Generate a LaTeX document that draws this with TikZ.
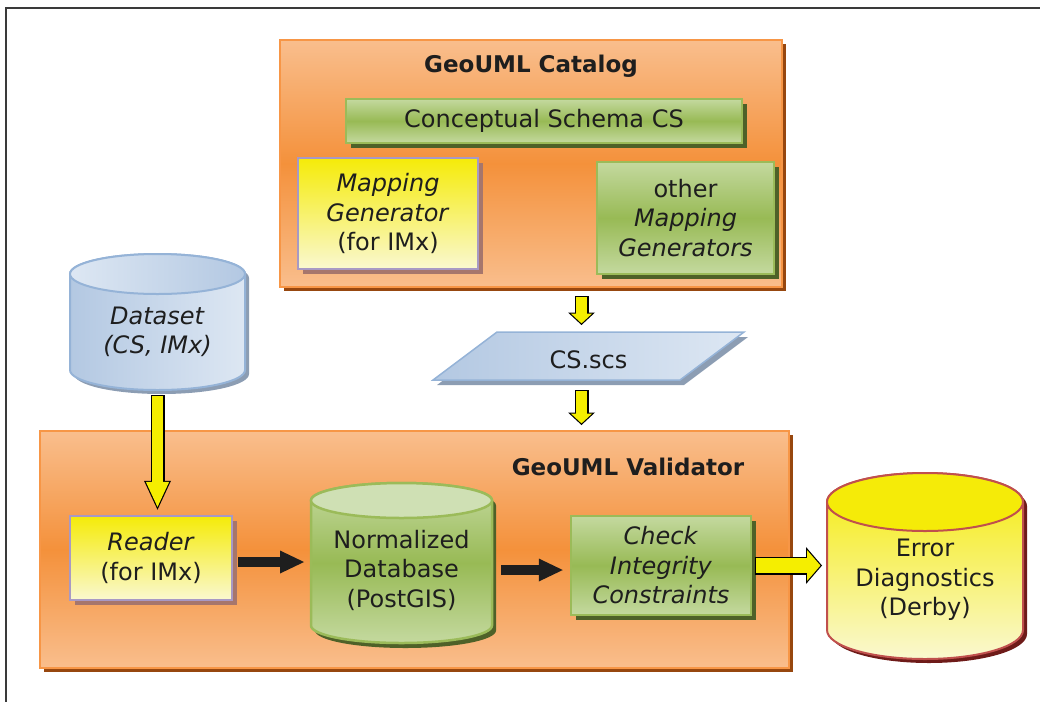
\documentclass[tikz,border=0pt]{standalone}
\usepackage{fontspec}
\setmainfont{DejaVu Sans}
\usetikzlibrary{arrows.meta,shadows,calc}

\definecolor{orlight}{HTML}{F9BE8D}
\definecolor{ormid}{HTML}{F4913B}
\definecolor{orline}{HTML}{F79646}
\definecolor{orshadow}{HTML}{97470F}
\definecolor{grlight}{HTML}{C4D99F}
\definecolor{grmid}{HTML}{98BA55}
\definecolor{grline}{HTML}{9BBB59}
\definecolor{grtop}{HTML}{CFE0B4}
\definecolor{grshadow}{HTML}{4E6128}
\definecolor{yelbright}{HTML}{F5EB08}
\definecolor{yelpale}{HTML}{FAF8D0}
\definecolor{lavline}{HTML}{A899C4}
\definecolor{mauveshadow}{HTML}{A6766C}
\definecolor{bllight}{HTML}{DDE7F3}
\definecolor{blmid}{HTML}{B3C8E2}
\definecolor{blline}{HTML}{95B3D7}
\definecolor{blshadow}{HTML}{8C9DB3}
\definecolor{redline}{HTML}{C0504D}
\definecolor{redshadow}{HTML}{6E1B19}
\definecolor{arrowyel}{HTML}{F5EE00}
\definecolor{inktext}{HTML}{1E1E1E}
\definecolor{frameline}{HTML}{3A3A3A}

\tikzset{
  boxtext/.style={font=\fontsize{24}{29.5}\selectfont, text=inktext, align=center, inner sep=4pt},
  titletext/.style={font=\fontsize{23}{28}\selectfont\bfseries, text=inktext},
  framel/.style={draw=frameline, line width=1.5pt},
  shapebox/.style={inner sep=0pt, outer sep=0pt},
  orbox/.style={draw=orline, line width=2pt, top color=orlight, bottom color=orlight, middle color=ormid,
    drop shadow={shadow xshift=4pt, shadow yshift=-4pt, opacity=1, fill=orshadow}},
  grbox/.style={draw=grline, line width=2.5pt, top color=grlight, bottom color=grlight, middle color=grmid,
    drop shadow={shadow xshift=5pt, shadow yshift=-5pt, opacity=1, fill=grshadow}},
  ylbox/.style={draw=lavline, line width=2.5pt, top color=yelbright, bottom color=yelpale,
    drop shadow={shadow xshift=5pt, shadow yshift=-5pt, opacity=1, fill=mauveshadow}},
  scsfill/.style={draw=blline, line width=1.5pt, left color=blmid, right color=bllight,
    drop shadow={shadow xshift=4pt, shadow yshift=-5pt, opacity=1, fill=blshadow}},
  dsbody/.style={draw=blline, line width=2pt, left color=blmid, right color=bllight,
    drop shadow={shadow xshift=4pt, shadow yshift=-4pt, opacity=1, fill=blshadow}},
  dstop/.style={draw=blline, line width=2pt, left color=bllight, right color=blmid},
  dbbody/.style={draw=grline, line width=2.5pt, top color=grlight, bottom color=grlight, middle color=grmid,
    drop shadow={shadow xshift=4pt, shadow yshift=-5pt, opacity=1, fill=grshadow}},
  dbtop/.style={draw=grline, line width=2.5pt, fill=grtop},
  errbody/.style={draw=redline, line width=2pt, top color=yelbright, bottom color=yelpale,
    drop shadow={shadow xshift=4pt, shadow yshift=-4pt, opacity=1, fill=redshadow}},
  errtop/.style={draw=redline, line width=2pt, fill=yelbright},
  yout/.style={draw=black, line cap=butt},
  yin/.style={draw=arrowyel, line cap=butt},
  blackarrow/.style={draw=inktext, line width=10pt, line cap=butt,
    -{Triangle[length=24pt, width=23pt, line width=0pt]}},
}

\begin{document}
\begin{tikzpicture}[x=1pt,y=-1pt]
\useasboundingbox (0,0) rectangle (1040,702);
% frame
\draw[framel] (1040,8) -- (6,8) -- (6,702);

% catalog
\node[orbox, minimum width=502pt, minimum height=247pt] (cat) at (531,163.5) {};
\node[titletext] (cattitle) at (531,66) {GeoUML Catalog};
\node[grbox, boxtext, minimum width=396pt, minimum height=44pt] (schema) at (544,121) {Conceptual Schema CS};
\node[ylbox, boxtext, minimum width=180pt, minimum height=111pt] (mapgen) at (388,213.5) {\textit{Mapping}\\\textit{Generator}\\(for IMx)};
\node[grbox, boxtext, minimum width=177pt, minimum height=112pt] (othergen) at (685.5,218) {other\\\textit{Mapping}\\\textit{Generators}};

% schema file
\node[shapebox, minimum width=247pt, minimum height=48pt] (scs) at (588.5,356) {};
\path[scsfill] ([xshift=-32pt]scs.south west) -- ([xshift=-32pt]scs.south east) -- ([xshift=32pt]scs.north east) -- ([xshift=32pt]scs.north west) -- cycle;
\node[boxtext] (scstext) at ([yshift=-4pt]scs.center) {CS.scs};
\coordinate (scsport) at ([xshift=-7pt]scs.north);
\coordinate (scsportb) at ([xshift=-7pt]scs.south);

% dataset
\node[shapebox, minimum width=175pt, minimum height=136pt] (data) at (157.5,322) {};
\path[dsbody] ([yshift=-20pt]data.north west) -- ([yshift=20pt]data.south west) arc[start angle=180, end angle=360, x radius=87.5pt, y radius=20pt] -- ([yshift=-20pt]data.north east) arc[start angle=0, end angle=180, x radius=87.5pt, y radius=20pt] -- cycle;
\path[dstop] ([yshift=-20pt]data.north) ellipse[x radius=87.5pt, y radius=20pt];
\node[boxtext] (datatext) at ([yshift=-10pt]data.center) {\textit{Dataset}\\\textit{(CS, IMx)}};

% validator
\node[orbox, minimum width=749pt, minimum height=237pt] (val) at (414.5,549.5) {};
\node[titletext] (valtitle) at (628,467) {GeoUML Validator};
\node[ylbox, boxtext, minimum width=162pt, minimum height=84pt] (reader) at (151,558) {\textit{Reader}\\(for IMx)};

\node[shapebox, minimum width=181pt, minimum height=160pt] (db) at (401.5,563) {};
\path[dbbody] ([yshift=-17.5pt]db.north west) -- ([yshift=17.5pt]db.south west) arc[start angle=180, end angle=360, x radius=90.5pt, y radius=17.5pt] -- ([yshift=-17.5pt]db.north east) arc[start angle=0, end angle=180, x radius=90.5pt, y radius=17.5pt] -- cycle;
\path[dbtop] ([yshift=-17.5pt]db.north) ellipse[x radius=90.5pt, y radius=17.5pt];
\node[boxtext] (dbtext) at ([yshift=-7pt]db.center) {Normalized\\Database\\(PostGIS)};

\node[grbox, boxtext, minimum width=180pt, minimum height=99pt] (check) at (661,565.5) {\textit{Check}\\\textit{Integrity}\\\textit{Constraints}};

% error store
\node[shapebox, minimum width=196pt, minimum height=186pt] (err) at (925,566) {};
\path[errbody] ([yshift=-29pt]err.north west) -- ([yshift=29pt]err.south west) arc[start angle=180, end angle=360, x radius=98pt, y radius=29pt] -- ([yshift=-29pt]err.north east) arc[start angle=0, end angle=180, x radius=98pt, y radius=29pt] -- cycle;
\path[errtop] ([yshift=-29pt]err.north) ellipse[x radius=98pt, y radius=29pt];
\node[boxtext] (errtext) at ([yshift=-14pt]err.center) {Error\\Diagnostics\\(Derby)};

% arrows
\draw[yout, line width=14pt, -{Triangle[length=12.5pt, width=27pt, line width=0pt]}, shorten <=8pt, shorten >=7pt] (scsport |- cat.south) -- (scsport);
\draw[yin, line width=11.6pt, -{Triangle[length=9.7pt, width=20.9pt, line width=0pt]}, shorten <=9.2pt, shorten >=8.6pt] (scsport |- cat.south) -- (scsport);

\draw[yout, line width=14pt, -{Triangle[length=12.5pt, width=27pt, line width=0pt]}, shorten <=10pt, shorten >=5pt] (scsportb) -- (scsportb |- val.north);
\draw[yin, line width=11.6pt, -{Triangle[length=9.7pt, width=20.9pt, line width=0pt]}, shorten <=11.2pt, shorten >=6.6pt] (scsportb) -- (scsportb |- val.north);

\draw[yout, line width=14pt, -{Triangle[length=29pt, width=27pt, line width=0pt]}, shorten <=5pt, shorten >=5pt] (data.south) -- (data.south |- reader.north);
\draw[yin, line width=11.6pt, -{Triangle[length=25pt, width=23.2pt, line width=0pt]}, shorten <=6.2pt, shorten >=7.8pt] (data.south) -- (data.south |- reader.north);

\draw[yout, line width=18pt, -{Triangle[length=16pt, width=37pt, line width=0pt]}, shorten <=3pt, shorten >=5pt] (check.east) -- (check.east -| err.west);
\draw[yin, line width=15.6pt, -{Triangle[length=13.2pt, width=30.5pt, line width=0pt]}, shorten <=4.2pt, shorten >=6.6pt] (check.east) -- (check.east -| err.west);

\draw[blackarrow, shorten <=5pt, shorten >=7pt] ($(reader.east)+(0,4)$) -- ($(reader.east -| db.west)+(0,4)$);
\draw[blackarrow, shorten <=9pt, shorten >=7pt] ($(check.west -| db.east)+(0,4.5)$) -- ($(check.west)+(0,4.5)$);
\end{tikzpicture}
\end{document}
